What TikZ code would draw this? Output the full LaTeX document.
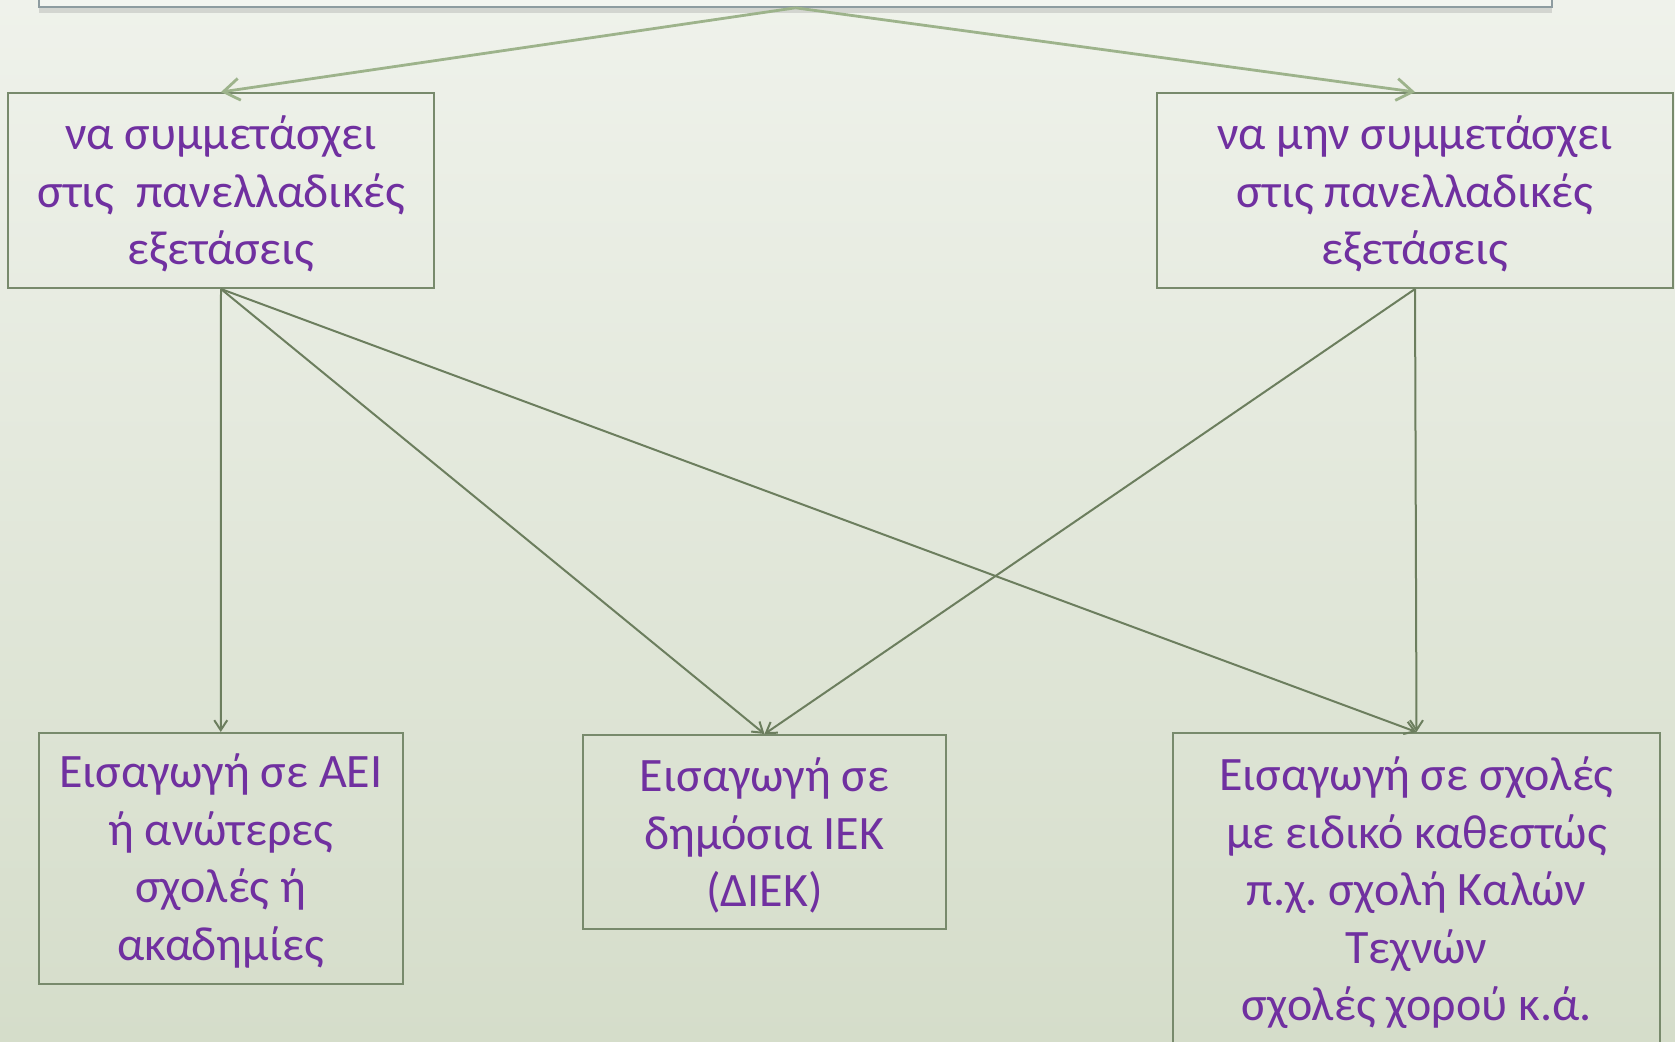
\documentclass[tikz,border=0pt]{standalone}
\usepackage{fontspec}
\setmainfont{Carlito}
\usetikzlibrary{arrows.meta,shadows}
\frenchspacing

\definecolor{bgtop}{HTML}{EFF2EB}
\definecolor{bgbot}{HTML}{D5DDCA}
\definecolor{boxline}{HTML}{788A6C}
\definecolor{arrline}{HTML}{6C7E5E}
\definecolor{toparrow}{HTML}{9DB38B}
\definecolor{topline}{HTML}{8E9CA0}
\definecolor{topfill}{HTML}{F3F5F0}
\definecolor{txtpurple}{HTML}{7030A0}

\begin{document}
\begin{tikzpicture}[x=0.5pt, y=-0.5pt,
    box/.style={draw=boxline, line width=1pt, inner sep=0pt},
    txt/.style={text=txtpurple, align=center, inner sep=0pt, anchor=north,
        font=\fontsize{24}{28.75}\selectfont},
    arr/.style={draw=arrline, line width=1pt, -{Straight Barb[length=5pt,width=6.5pt]}},
    toparr/.style={draw=toparrow, line width=1.4pt, -{Straight Barb[length=8pt,width=11pt]}}]

    % 背景
    \shade[top color=bgtop, bottom color=bgbot] (0,0) rectangle (1675,1041);
    \useasboundingbox (0,0) rectangle (1675,1041);

    % 上方框 (μόνο το κάτω μέρος φαίνεται)
    \node[draw=topline, fill=topfill, line width=0.8pt, inner sep=0pt,
        drop shadow={shadow xshift=0pt, shadow yshift=-3pt, opacity=0.25},
        minimum width=756.5pt, minimum height=60pt] (top) at (795.5,-53) {};

    % πρώτο επίπεδο
    \node[box, minimum width=213pt, minimum height=97.5pt] (yes) at (221,190.5) {};
    \node[txt] (yestxt) at ([yshift=-8.5pt]yes.north)
        {\strut να συμμετάσχει\\στις\ \ πανελλαδικές\\εξετάσεις};
    \node[box, minimum width=258pt, minimum height=97.5pt] (no) at (1415,190.5) {};
    \node[txt] (notxt) at ([yshift=-8.5pt]no.north)
        {\strut να μην συμμετάσχει\\στις πανελλαδικές\\εξετάσεις};

    % δεύτερο επίπεδο
    \node[box, minimum width=182pt, minimum height=125.5pt] (aei) at (220.75,858.5) {};
    \node[txt] (aeitxt) at ([yshift=-7.5pt]aei.north)
        {\strut Εισαγωγή σε ΑΕΙ\\ή ανώτερες\\σχολές ή\\ακαδημίες};
    \node[box, minimum width=181.5pt, minimum height=97pt] (diek) at (764.5,832) {};
    \node[txt] (diektxt) at ([yshift=-8.5pt]diek.north)
        {\strut Εισαγωγή σε\\δημόσια ΙΕΚ\\(ΔΙΕΚ)};
    \node[box, minimum width=243.5pt, minimum height=167pt] (schools) at (1416.5,900) {};
    \node[txt] (schoolstxt) at ([yshift=-9pt]schools.north)
        {\strut Εισαγωγή σε σχολές\\με ειδικό καθεστώς\\π.χ. σχολή Καλών\\Τεχνών\\σχολές χορού κ.ά.};

    % βέλη
    \draw[toparr] (top.south) -- (yes.north);
    \draw[toparr] (top.south) -- (no.north);
    \draw[arr] (yes.south) -- (aei.north);
    \draw[arr] (yes.south) -- (diek.north);
    \draw[arr] (yes.south) -- (schools.north);
    \draw[arr] (no.south) -- (diek.north);
    \draw[arr] (no.south) -- (schools.north);
\end{tikzpicture}
\end{document}
